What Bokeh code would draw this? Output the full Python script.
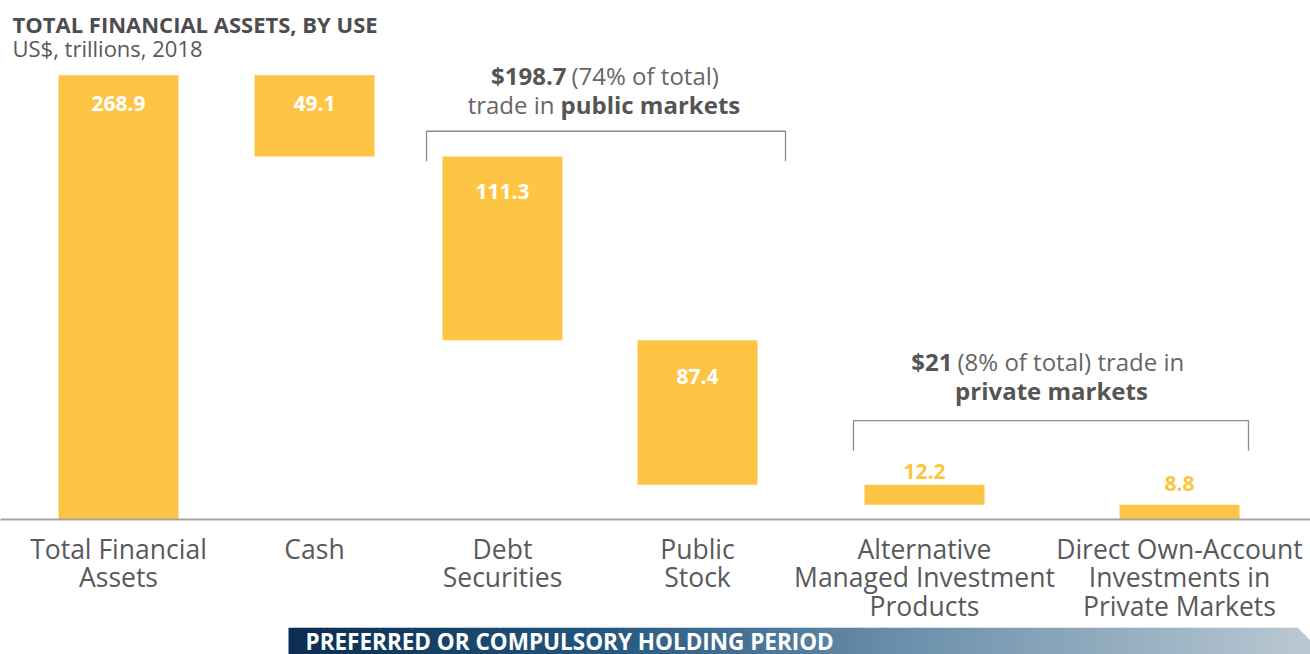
from bokeh.plotting import figure
from bokeh.models import Range1d, FixedTicker, ColumnDataSource
from bokeh.layouts import column
from bokeh.embed import file_html
from bokeh.resources import INLINE
from bokeh.core.properties import value

# ---------------- data ----------------
categories = [
    "Total Financial\nAssets",
    "Cash",
    "Debt\nSecurities",
    "Public\nStock",
    "Alternative\nManaged Investment\nProducts",
    "Direct Own-Account\nInvestments in\nPrivate Markets",
]
values = [268.9, 49.1, 111.3, 87.4, 12.2, 8.8]
value_labels = ["268.9", "49.1", "111.3", "87.4", "12.2", "8.8"]
public_total = "$198.7"
public_share = "(74% of total)"
private_total = "$21"
private_share = "(8% of total) trade in"
title_text = "TOTAL FINANCIAL ASSETS, BY USE"
subtitle_text = "US$, trillions, 2018"
banner_text = "PREFERRED OR COMPULSORY HOLDING PERIOD"

# ---------------- layout / style ----------------
FONT = value("Open Sans")
BAR = "#FDC543"
GREY = "#58595b"
W = 1310
FRAME_H = 520          # frame spans page rows 0..520
AXIS_H = 107
BANNER_H = 654 - FRAME_H - AXIS_H
PX_PER_UNIT = 1.655
Y_END = FRAME_H / PX_PER_UNIT
x_centers = [118, 314, 502, 697, 924, 1179]   # category slots (screen layout)
bar_width = 120
label_offsets = [28, 28, 35, 36, -13, -21]      # px below bar top (neg = above)
label_colors = ["white", "white", "white", "white", BAR, BAR]


def ypx(py):
    """page pixel row -> data units"""
    return (FRAME_H - py) / PX_PER_UNIT


# waterfall geometry from values
tops, bottoms = [], []
running = values[0]
tops.append(values[0]); bottoms.append(0)
for v in values[1:]:
    tops.append(running)
    running = running - v
    bottoms.append(running)

label_y = [t - off / PX_PER_UNIT for t, off in zip(tops, label_offsets)]

src = ColumnDataSource(dict(x=x_centers, top=tops, bottom=bottoms,
                            ly=label_y, txt=value_labels, lc=label_colors))

p = figure(width=W, height=FRAME_H + AXIS_H, x_range=Range1d(0, W),
           y_range=Range1d(0, Y_END), output_backend="svg",
           toolbar_location=None, y_axis_location=None,
           min_border_left=0, min_border_right=0, min_border_top=0,
           min_border_bottom=AXIS_H)
p.outline_line_color = None
p.grid.visible = False
p.background_fill_color = "white"

p.vbar(x="x", width=bar_width, top="top", bottom="bottom", source=src,
       fill_color=BAR, line_color=None)
p.text(x="x", y="ly", text="txt", source=src, text_color="lc",
       text_font=FONT, text_font_style="bold", text_font_size="21px",
       text_align="center", text_baseline="middle")

# x axis with category labels
ax = p.xaxis[0]
ax.ticker = FixedTicker(ticks=x_centers)
ax.major_label_overrides = {x: c for x, c in zip(x_centers, categories)}
ax.axis_line_color = "#a3a3a3"
ax.axis_line_width = 2
ax.major_tick_line_color = None
ax.minor_tick_line_color = None
ax.major_tick_out = 0
ax.major_tick_in = 0
ax.major_label_standoff = 11
ax.major_label_text_font = "Open Sans"
ax.major_label_text_font_size = "26.5px"
ax.major_label_text_line_height = 0.8
ax.major_label_text_color = GREY

# titles
p.text(x=[12], y=[ypx(24)], text=[title_text], text_font=FONT,
       text_font_style="bold", text_font_size="22px", text_color="#4d4d4f",
       text_align="left", text_baseline="middle")
p.text(x=[12], y=[ypx(48)], text=[subtitle_text], text_font=FONT,
       text_font_size="22px", text_color=GREY,
       text_align="left", text_baseline="middle")

# public markets annotation
ann_kw = dict(text_font=FONT, text_font_size="24px", text_baseline="middle")
p.text(x=[566], y=[ypx(75)], text=[public_total], text_font_style="bold",
       text_color="#555555", text_align="right", **ann_kw)
p.text(x=[571], y=[ypx(75)], text=[public_share], text_color="#666666",
       text_align="left", **ann_kw)
p.text(x=[554], y=[ypx(104)], text=["trade in"], text_color="#666666",
       text_align="right", **ann_kw)
p.text(x=[560], y=[ypx(104)], text=["public markets"], text_font_style="bold",
       text_color="#555555", text_align="left", **ann_kw)
p.line(x=[426, 426, 785, 785], y=[ypx(161), ypx(131), ypx(131), ypx(161)],
       line_color="#8c8c8c", line_width=1.3)

# private markets annotation
p.text(x=[952], y=[ypx(362)], text=[private_total], text_font_style="bold",
       text_color="#555555", text_align="right", **ann_kw)
p.text(x=[957], y=[ypx(362)], text=[private_share], text_color="#666666",
       text_align="left", **ann_kw)
p.text(x=[1051], y=[ypx(391)], text=["private markets"], text_font_style="bold",
       text_color="#555555", text_align="center", **ann_kw)
p.line(x=[853, 853, 1248, 1248], y=[ypx(451), ypx(421), ypx(421), ypx(451)],
       line_color="#8c8c8c", line_width=1.3)

# ---------------- banner ----------------
top_row = FRAME_H + AXIS_H
b = figure(width=W, height=BANNER_H, x_range=Range1d(0, W),
           y_range=Range1d(654, top_row),
           output_backend="svg", toolbar_location=None,
           x_axis_location=None, y_axis_location=None,
           min_border=0)
b.outline_line_color = None
b.grid.visible = False

stops = [(288, (10, 45, 80)), (600, (36, 87, 126)), (900, (106, 143, 171)),
         (1300, (184, 199, 209))]


def grad(xv):
    for (x0, c0), (x1, c1) in zip(stops[:-1], stops[1:]):
        if x0 <= xv <= x1:
            t = (xv - x0) / (x1 - x0)
            return "#%02x%02x%02x" % tuple(int(round(a + (bb - a) * t)) for a, bb in zip(c0, c1))
    return "#b8c7d1"


n = 160
x_end = 1297
edges = [288 + (x_end - 288) * i / n for i in range(n + 1)]
b.quad(left=edges[:-1], right=[e + 0.8 for e in edges[1:]],
       top=[627] * n, bottom=[660] * n,
       fill_color=[grad((edges[i] + edges[i + 1]) / 2) for i in range(n)],
       line_color=None)
b.patch(x=[x_end, 1311, 1311, x_end], y=[627, 641, 660, 660],
        fill_color="#b8c7d1", line_color=None)
b.text(x=[305], y=[641], text=[banner_text], text_font=FONT,
       text_font_style="bold", text_font_size="22.5px", text_color="white",
       text_align="left", text_baseline="middle")

layout = column(p, b, spacing=0)
open("out.html", "w").write(file_html(layout, INLINE))
